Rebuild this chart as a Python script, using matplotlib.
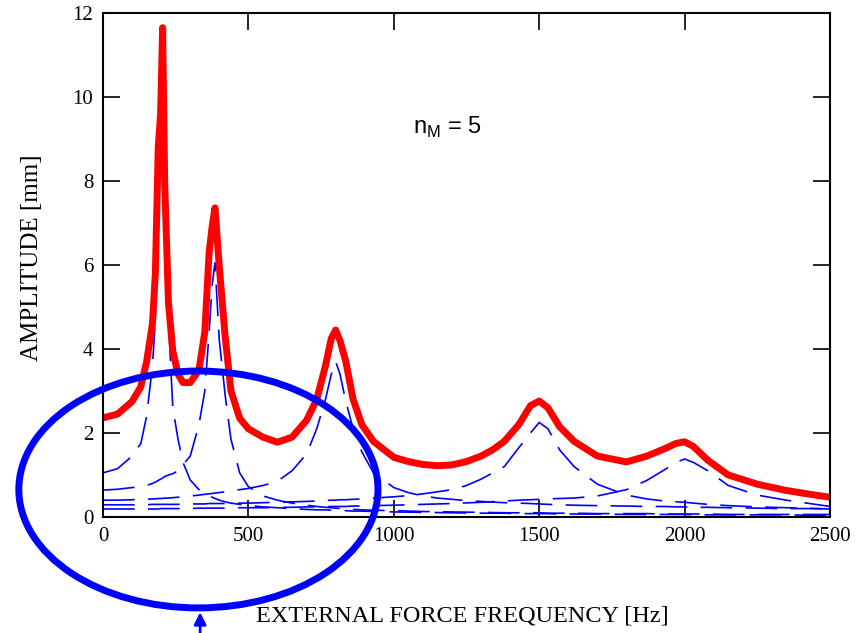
import matplotlib
import matplotlib.pyplot as plt
from matplotlib.patches import Ellipse

matplotlib.rcParams['mathtext.fontset'] = 'custom'
matplotlib.rcParams['mathtext.rm'] = 'Liberation Sans'

# frequency grid [Hz]
freq = [0, 50, 100, 130, 150, 170, 180, 190, 198, 205, 212, 225, 240, 258, 275,
        300, 330, 350, 365, 375, 385, 400, 420, 440, 470, 500, 550, 600, 650,
        700, 735, 765, 785, 800, 815, 835, 860, 890, 930, 1000, 1050, 1100,
        1150, 1200, 1250, 1300, 1340, 1380, 1430, 1470, 1500, 1530, 1570, 1620,
        1700, 1800, 1870, 1930, 1970, 2000, 2030, 2080, 2150, 2250, 2350, 2450,
        2500]

# total amplitude [mm]
total = [2.36, 2.45, 2.75, 3.1, 3.7, 4.6, 5.8, 8.8, 9.6, 11.65, 8.0, 5.1, 3.95,
         3.4, 3.2, 3.2, 3.5, 4.4, 6.3, 6.9, 7.36, 5.95, 4.3, 3.0, 2.35, 2.1,
         1.9, 1.78, 1.9, 2.3, 2.8, 3.6, 4.25, 4.45, 4.2, 3.7, 2.8, 2.2, 1.8,
         1.42, 1.32, 1.25, 1.22, 1.24, 1.32, 1.45, 1.6, 1.8, 2.2, 2.65, 2.76,
         2.6, 2.15, 1.8, 1.45, 1.31, 1.45, 1.62, 1.75, 1.79, 1.68, 1.35, 1.0,
         0.78, 0.63, 0.52, 0.47]

# modal contributions [mm]
mode1 = [1.05, 1.15, 1.45, 1.75, 2.4, 3.6, 4.7, 6.8, 9.0, 10.0, 7.5, 4.7, 2.6,
         1.85, 1.3, 0.88, 0.65, 0.55, 0.5, 0.47, 0.44, 0.4, 0.36, 0.33, 0.3,
         0.27, 0.24, 0.22, 0.2, 0.18, 0.17, 0.17, 0.16, 0.16, 0.15, 0.15, 0.14,
         0.14, 0.13, 0.12, 0.115, 0.11, 0.105, 0.1, 0.095, 0.09, 0.09, 0.09,
         0.08, 0.08, 0.08, 0.08, 0.07, 0.07, 0.07, 0.06, 0.06, 0.06, 0.06, 0.06,
         0.05, 0.05, 0.05, 0.05, 0.05, 0.04, 0.04]
mode2 = [0.64, 0.66, 0.7, 0.72, 0.75, 0.8, 0.83, 0.87, 0.9, 0.93, 0.96, 1.0,
         1.03, 1.1, 1.25, 1.45, 2.2, 3.0, 4.4, 5.5, 6.05, 4.2, 2.9, 1.85, 1.05,
         0.72, 0.5, 0.4, 0.33, 0.28, 0.25, 0.23, 0.22, 0.21, 0.2, 0.19, 0.18,
         0.17, 0.16, 0.15, 0.14, 0.13, 0.125, 0.12, 0.115, 0.11, 0.105, 0.1,
         0.1, 0.1, 0.1, 0.09, 0.09, 0.09, 0.08, 0.08, 0.08, 0.07, 0.07, 0.07,
         0.07, 0.07, 0.06, 0.06, 0.06, 0.06, 0.06]
mode3 = [0.4, 0.4, 0.41, 0.42, 0.42, 0.43, 0.43, 0.44, 0.44, 0.44, 0.45, 0.45,
         0.46, 0.47, 0.48, 0.5, 0.52, 0.54, 0.55, 0.56, 0.57, 0.58, 0.6, 0.62,
         0.65, 0.68, 0.75, 0.85, 1.1, 1.5, 2.1, 2.8, 3.4, 3.7, 3.4, 2.75, 2.1,
         1.55, 1.05, 0.7, 0.58, 0.5, 0.45, 0.42, 0.39, 0.37, 0.355, 0.34, 0.33,
         0.32, 0.31, 0.3, 0.29, 0.28, 0.27, 0.26, 0.25, 0.25, 0.24, 0.24, 0.23,
         0.23, 0.22, 0.21, 0.2, 0.2, 0.19]
mode4 = [0.29, 0.29, 0.29, 0.29, 0.29, 0.3, 0.3, 0.3, 0.3, 0.3, 0.3, 0.3, 0.3,
         0.3, 0.31, 0.31, 0.31, 0.31, 0.32, 0.32, 0.32, 0.32, 0.32, 0.33, 0.33,
         0.33, 0.34, 0.35, 0.36, 0.37, 0.38, 0.39, 0.4, 0.4, 0.41, 0.41, 0.42,
         0.43, 0.45, 0.48, 0.51, 0.55, 0.6, 0.65, 0.75, 0.9, 1.05, 1.2, 1.65,
         2.0, 2.25, 2.1, 1.6, 1.2, 0.78, 0.52, 0.43, 0.38, 0.36, 0.35, 0.33,
         0.3, 0.27, 0.24, 0.22, 0.2, 0.19]
mode5 = [0.19, 0.19, 0.19, 0.19, 0.19, 0.19, 0.19, 0.19, 0.2, 0.2, 0.2, 0.2,
         0.2, 0.2, 0.2, 0.2, 0.21, 0.21, 0.21, 0.21, 0.21, 0.21, 0.21, 0.22,
         0.22, 0.22, 0.22, 0.23, 0.23, 0.24, 0.24, 0.24, 0.25, 0.25, 0.25, 0.25,
         0.26, 0.26, 0.27, 0.28, 0.29, 0.3, 0.31, 0.32, 0.335, 0.35, 0.365,
         0.38, 0.4, 0.41, 0.42, 0.43, 0.44, 0.45, 0.5, 0.65, 0.87, 1.12, 1.3,
         1.38, 1.3, 1.1, 0.75, 0.52, 0.4, 0.3, 0.25]
modes = [mode1, mode2, mode3, mode4, mode5]
n_modes = 5

serif = 'Liberation Serif'

fig = plt.figure(figsize=(8.57, 6.33), dpi=100)
ax = fig.add_axes([0.1202, 0.1833, 0.8483, 0.7962])

for m in modes:
  ax.plot(freq, m, color='blue', linewidth=1.2, linestyle=(0, (19, 8)))
ax.plot(freq, total, color='red', linewidth=5)

ax.set_xlim(0, 2500)
ax.set_ylim(0, 12)
ax.set_xticks(range(0, 2501, 500))
ax.set_yticks(range(0, 13, 2))
ax.tick_params(direction='in', length=12, width=1.2, top=True, right=True,
               labelsize=15, pad=7)
for lab in ax.get_xticklabels() + ax.get_yticklabels():
  lab.set_fontfamily(serif)
for sp in ax.spines.values():
  sp.set_linewidth(1.5)

ax.set_xlabel("EXTERNAL FORCE FREQUENCY [Hz]", fontsize=17.5, family=serif)
ax.xaxis.set_label_coords(0.494, -0.175)
ax.set_ylabel("AMPLITUDE [mm]", fontsize=18, family=serif)
ax.yaxis.set_label_coords(-0.083, 0.515)

ax.text(1066, 9.12, r"n$_{\mathrm{M}}$ = " + str(n_modes), fontsize=17,
        family='Liberation Sans', ha='left', va='baseline')

# highlight the low frequency region
ell = Ellipse((328, 0.655), 1235, 5.64, fill=False, edgecolor='blue',
              linewidth=5, clip_on=False, zorder=5)
ax.add_patch(ell)
ax.annotate('', xy=(334, -2.2), xytext=(334, -2.95),
            arrowprops=dict(arrowstyle='-|>', color='blue', lw=2,
                            mutation_scale=18),
            annotation_clip=False)

plt.savefig('out.png', dpi=100)
